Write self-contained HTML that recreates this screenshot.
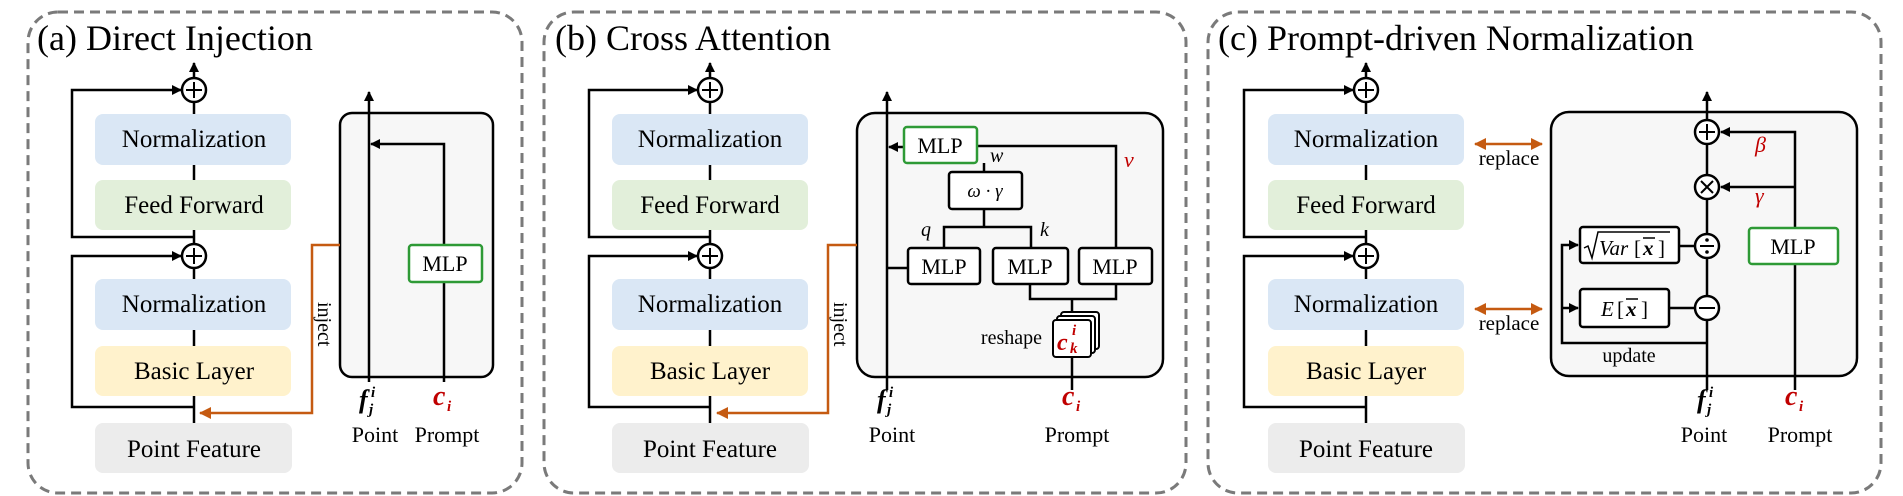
<!DOCTYPE html>
<html><head><meta charset="utf-8"><style>
html,body{margin:0;padding:0;background:#fff;}
svg{display:block;}
svg text{font-family:"Liberation Serif","DejaVu Serif",serif;}
</style></head><body>
<svg width="1903" height="496" viewBox="0 0 1903 496" xmlns="http://www.w3.org/2000/svg" font-family="Liberation Serif, DejaVu Serif, serif">
<defs>
<marker id="ab" markerWidth="10" markerHeight="10" refX="9" refY="5" orient="auto" markerUnits="userSpaceOnUse"><path d="M0,0 L10,5 L0,10 z" fill="#000"/></marker>
<marker id="ao" markerWidth="12" markerHeight="12" refX="11" refY="6" orient="auto-start-reverse" markerUnits="userSpaceOnUse"><path d="M0,0 L12,6 L0,12 z" fill="#c55a11"/></marker>
</defs>

<g fill="none" stroke="#7a7a7a" stroke-width="3" stroke-dasharray="10 6">
<rect x="28" y="12" width="494" height="481" rx="30"/>
<rect x="544" y="12" width="642" height="481" rx="30"/>
<rect x="1208" y="12" width="673" height="481" rx="30"/>
</g>

<g font-family="Liberation Serif, DejaVu Serif, serif" font-size="36">
<text x="37" y="50">(a) Direct Injection</text>
<text x="555" y="50">(b) Cross Attention</text>
<text x="1218" y="50">(c) Prompt-driven Normalization</text>
</g>

<g font-size="25" text-anchor="middle" stroke-width="2.5" font-family="Liberation Serif, DejaVu Serif, serif">
<g transform="translate(194,0)">
 <line x1="0" y1="78" x2="0" y2="63" stroke="#000" stroke-width="2.5" marker-end="url(#ab)"/>
 <circle cx="0" cy="90" r="12" fill="#fff" stroke="#000" stroke-width="2.5"/><path d="M-8,90H8M0,82V98" stroke="#000" stroke-width="2"/>
 <path d="M0,237 H-122 V90 H-13" fill="none" stroke="#000" stroke-width="2.5" marker-end="url(#ab)"/>
 <line x1="0" y1="102" x2="0" y2="114" stroke="#000"/>
 <rect x="-99" y="114" width="196" height="51" rx="8" fill="#dae7f5"/><text x="0" y="147">Normalization</text>
 <line x1="0" y1="165" x2="0" y2="180" stroke="#000"/>
 <rect x="-99" y="180" width="196" height="50" rx="8" fill="#e2efda"/><text x="0" y="213">Feed Forward</text>
 <line x1="0" y1="230" x2="0" y2="244" stroke="#000"/>
 <circle cx="0" cy="256" r="12" fill="#fff" stroke="#000" stroke-width="2.5"/><path d="M-8,256H8M0,248V264" stroke="#000" stroke-width="2"/>
 <path d="M0,407 H-122 V256 H-13" fill="none" stroke="#000" stroke-width="2.5" marker-end="url(#ab)"/>
 <line x1="0" y1="268" x2="0" y2="279" stroke="#000"/>
 <rect x="-99" y="279" width="196" height="51" rx="8" fill="#dae7f5"/><text x="0" y="312">Normalization</text>
 <line x1="0" y1="330" x2="0" y2="346" stroke="#000"/>
 <rect x="-99" y="346" width="196" height="50" rx="8" fill="#fff2cc"/><text x="0" y="379">Basic Layer</text>
 <line x1="0" y1="396" x2="0" y2="423" stroke="#000"/>
 <rect x="-99" y="423" width="197" height="50" rx="8" fill="#ececec"/><text x="0" y="457">Point Feature</text>
</g>
<g transform="translate(710,0)">
 <line x1="0" y1="78" x2="0" y2="63" stroke="#000" stroke-width="2.5" marker-end="url(#ab)"/>
 <circle cx="0" cy="90" r="12" fill="#fff" stroke="#000" stroke-width="2.5"/><path d="M-8,90H8M0,82V98" stroke="#000" stroke-width="2"/>
 <path d="M0,237 H-121 V90 H-13" fill="none" stroke="#000" stroke-width="2.5" marker-end="url(#ab)"/>
 <line x1="0" y1="102" x2="0" y2="114" stroke="#000"/>
 <rect x="-98" y="114" width="196" height="51" rx="8" fill="#dae7f5"/><text x="0" y="147">Normalization</text>
 <line x1="0" y1="165" x2="0" y2="180" stroke="#000"/>
 <rect x="-98" y="180" width="196" height="50" rx="8" fill="#e2efda"/><text x="0" y="213">Feed Forward</text>
 <line x1="0" y1="230" x2="0" y2="244" stroke="#000"/>
 <circle cx="0" cy="256" r="12" fill="#fff" stroke="#000" stroke-width="2.5"/><path d="M-8,256H8M0,248V264" stroke="#000" stroke-width="2"/>
 <path d="M0,407 H-121 V256 H-13" fill="none" stroke="#000" stroke-width="2.5" marker-end="url(#ab)"/>
 <line x1="0" y1="268" x2="0" y2="279" stroke="#000"/>
 <rect x="-98" y="279" width="196" height="51" rx="8" fill="#dae7f5"/><text x="0" y="312">Normalization</text>
 <line x1="0" y1="330" x2="0" y2="346" stroke="#000"/>
 <rect x="-98" y="346" width="196" height="50" rx="8" fill="#fff2cc"/><text x="0" y="379">Basic Layer</text>
 <line x1="0" y1="396" x2="0" y2="423" stroke="#000"/>
 <rect x="-98" y="423" width="197" height="50" rx="8" fill="#ececec"/><text x="0" y="457">Point Feature</text>
</g>
<g transform="translate(1366,0)">
 <line x1="0" y1="78" x2="0" y2="63" stroke="#000" stroke-width="2.5" marker-end="url(#ab)"/>
 <circle cx="0" cy="90" r="12" fill="#fff" stroke="#000" stroke-width="2.5"/><path d="M-8,90H8M0,82V98" stroke="#000" stroke-width="2"/>
 <path d="M0,237 H-122 V90 H-13" fill="none" stroke="#000" stroke-width="2.5" marker-end="url(#ab)"/>
 <line x1="0" y1="102" x2="0" y2="114" stroke="#000"/>
 <rect x="-98" y="114" width="196" height="51" rx="8" fill="#dae7f5"/><text x="0" y="147">Normalization</text>
 <line x1="0" y1="165" x2="0" y2="180" stroke="#000"/>
 <rect x="-98" y="180" width="196" height="50" rx="8" fill="#e2efda"/><text x="0" y="213">Feed Forward</text>
 <line x1="0" y1="230" x2="0" y2="244" stroke="#000"/>
 <circle cx="0" cy="256" r="12" fill="#fff" stroke="#000" stroke-width="2.5"/><path d="M-8,256H8M0,248V264" stroke="#000" stroke-width="2"/>
 <path d="M0,407 H-122 V256 H-13" fill="none" stroke="#000" stroke-width="2.5" marker-end="url(#ab)"/>
 <line x1="0" y1="268" x2="0" y2="279" stroke="#000"/>
 <rect x="-98" y="279" width="196" height="51" rx="8" fill="#dae7f5"/><text x="0" y="312">Normalization</text>
 <line x1="0" y1="330" x2="0" y2="346" stroke="#000"/>
 <rect x="-98" y="346" width="196" height="50" rx="8" fill="#fff2cc"/><text x="0" y="379">Basic Layer</text>
 <line x1="0" y1="396" x2="0" y2="423" stroke="#000"/>
 <rect x="-98" y="423" width="197" height="50" rx="8" fill="#ececec"/><text x="0" y="457">Point Feature</text>
</g>
</g>

<g font-family="Liberation Serif, DejaVu Serif, serif">
<!-- Panel A right -->
<rect x="340" y="113" width="153" height="264" rx="12" fill="#f7f7f7" stroke="#000" stroke-width="2.5"/>
<line x1="369" y1="382" x2="369" y2="92" stroke="#000" stroke-width="2.5" marker-end="url(#ab)"/>
<path d="M444,382 V144 H371" fill="none" stroke="#000" stroke-width="2.5" marker-end="url(#ab)"/>
<rect x="409" y="245" width="73" height="37" rx="3" fill="#fff" stroke="#2e9a36" stroke-width="2.5"/>
<text x="445" y="271" font-size="22" text-anchor="middle">MLP</text>
<path d="M340,245 H312 V413 H200" fill="none" stroke="#c55a11" stroke-width="2.5" marker-end="url(#ao)"/>
<text transform="translate(318,302) rotate(90)" font-size="20">inject</text>
<text x="359" y="408" font-size="26" font-weight="bold" font-style="italic">f</text>
<text x="371" y="397" font-size="15" font-weight="bold" font-style="italic">i</text>
<text x="369" y="414" font-size="15" font-weight="bold" font-style="italic">j</text>
<text x="433" y="405" font-size="28" font-weight="bold" font-style="italic" fill="#c00000">c</text>
<text x="447" y="411" font-size="15" font-weight="bold" font-style="italic" fill="#c00000">i</text>
<text x="375" y="442" font-size="22" text-anchor="middle">Point</text>
<text x="447" y="442" font-size="22" text-anchor="middle">Prompt</text>

<!-- Panel B right -->
<rect x="857" y="113" width="306" height="264" rx="18" fill="#f7f7f7" stroke="#000" stroke-width="2.5"/>
<line x1="887" y1="390" x2="887" y2="92" stroke="#000" stroke-width="2.5" marker-end="url(#ab)"/>
<path d="M857,245 H828 V413 H717" fill="none" stroke="#c55a11" stroke-width="2.5" marker-end="url(#ao)"/>
<text transform="translate(834,302) rotate(90)" font-size="20">inject</text>
<g stroke="#000" stroke-width="2.5" fill="none">
<line x1="904" y1="147" x2="889" y2="147" marker-end="url(#ab)"/>
<path d="M977,146 H1116 V248"/>
<line x1="984" y1="163" x2="984" y2="172"/>
<path d="M984,209 V227 M944,248 V227 H1031 V248"/>
<line x1="887" y1="268" x2="908" y2="268"/>
<path d="M1030,284 V299 H1116 V284 M1072,299 V312"/>
<line x1="1072" y1="357" x2="1072" y2="390"/>
</g>
<rect x="904" y="127" width="73" height="36" rx="3" fill="#fff" stroke="#2e9a36" stroke-width="2.5"/>
<text x="940" y="153" font-size="22" text-anchor="middle">MLP</text>
<rect x="949" y="172" width="73" height="37" rx="3" fill="#fff" stroke="#000" stroke-width="2.5"/>
<text x="985" y="197" font-size="19" font-style="italic" text-anchor="middle">ω · γ</text>
<g fill="#fff" stroke="#000" stroke-width="2.5">
<rect x="908" y="248" width="72" height="36" rx="3"/>
<rect x="993" y="248" width="75" height="36" rx="3"/>
<rect x="1079" y="248" width="73" height="36" rx="3"/>
</g>
<g font-size="22" text-anchor="middle">
<text x="944" y="274">MLP</text><text x="1030" y="274">MLP</text><text x="1115" y="274">MLP</text>
</g>
<text x="990" y="162" font-size="20" font-style="italic">w</text>
<text x="1124" y="167" font-size="22" font-style="italic" fill="#c00000">v</text>
<text x="921" y="236" font-size="20" font-style="italic">q</text>
<text x="1040" y="236" font-size="20" font-style="italic">k</text>
<g fill="#fff" stroke="#000" stroke-width="2">
<rect x="1061" y="312" width="38" height="37" rx="3"/>
<rect x="1057" y="316" width="38" height="37" rx="3"/>
<rect x="1053" y="320" width="38" height="37" rx="3"/>
</g>
<text x="1057" y="350" font-size="24" font-weight="bold" font-style="italic" fill="#c00000">c</text>
<text x="1072" y="335" font-size="15" font-weight="bold" font-style="italic" fill="#c00000">i</text>
<text x="1070" y="353" font-size="15" font-weight="bold" font-style="italic" fill="#c00000">k</text>
<text x="1042" y="344" font-size="20" text-anchor="end">reshape</text>
<text x="877" y="408" font-size="26" font-weight="bold" font-style="italic">f</text>
<text x="889" y="397" font-size="15" font-weight="bold" font-style="italic">i</text>
<text x="887" y="414" font-size="15" font-weight="bold" font-style="italic">j</text>
<text x="1062" y="405" font-size="28" font-weight="bold" font-style="italic" fill="#c00000">c</text>
<text x="1076" y="411" font-size="15" font-weight="bold" font-style="italic" fill="#c00000">i</text>
<text x="892" y="442" font-size="22" text-anchor="middle">Point</text>
<text x="1077" y="442" font-size="22" text-anchor="middle">Prompt</text>

<!-- Panel C -->
<line x1="1475" y1="144" x2="1542" y2="144" stroke="#c55a11" stroke-width="2.5" marker-start="url(#ao)" marker-end="url(#ao)"/>
<line x1="1475" y1="309" x2="1542" y2="309" stroke="#c55a11" stroke-width="2.5" marker-start="url(#ao)" marker-end="url(#ao)"/>
<text x="1509" y="165" font-size="21" text-anchor="middle">replace</text>
<text x="1509" y="330" font-size="21" text-anchor="middle">replace</text>

<rect x="1551" y="112" width="306" height="264" rx="18" fill="#f7f7f7" stroke="#000" stroke-width="2.5"/>
<g stroke="#000" stroke-width="2.5" fill="none">
<line x1="1707" y1="390" x2="1707" y2="92" marker-end="url(#ab)"/>
<line x1="1795" y1="390" x2="1795" y2="264"/>
<path d="M1795,228 V132 H1721" marker-end="url(#ab)"/>
<line x1="1795" y1="187" x2="1721" y2="187" marker-end="url(#ab)"/>
<path d="M1707,343 H1562 V245 H1578" marker-end="url(#ab)"/>
<line x1="1562" y1="308" x2="1578" y2="308" marker-end="url(#ab)"/>
<line x1="1679" y1="246" x2="1695" y2="246"/>
<line x1="1669" y1="308" x2="1695" y2="308"/>
</g>
<g fill="#fff" stroke="#000" stroke-width="2.5">
<circle cx="1707" cy="132" r="12"/><circle cx="1707" cy="187" r="12"/><circle cx="1707" cy="246" r="12"/><circle cx="1707" cy="308" r="12"/>
</g>
<g stroke="#000" stroke-width="2">
<path d="M1699,132H1715M1707,124V140"/>
<path d="M1701,181L1713,193M1713,181L1701,193"/>
<path d="M1700,246H1714"/>
<path d="M1699,308H1715"/>
</g>
<circle cx="1707" cy="240" r="1.8" fill="#000"/><circle cx="1707" cy="252" r="1.8" fill="#000"/>
<text x="1755" y="152" font-size="22" font-style="italic" fill="#c00000">β</text>
<text x="1755" y="203" font-size="22" font-style="italic" fill="#c00000">γ</text>
<rect x="1749" y="228" width="89" height="36" rx="3" fill="#fff" stroke="#2e9a36" stroke-width="2.5"/>
<text x="1793" y="254" font-size="22" text-anchor="middle">MLP</text>
<rect x="1580" y="227" width="99" height="36" rx="3" fill="#fff" stroke="#000" stroke-width="2.5"/>
<path d="M1584,248 L1588,246 L1592,258 L1598,232 H1670" fill="none" stroke="#000" stroke-width="1.5"/>
<text x="1599" y="255" font-size="21" font-style="italic">Var</text>
<text x="1634" y="255" font-size="21">[</text>
<text x="1643" y="255" font-size="21" font-weight="bold" font-style="italic">x</text>
<line x1="1643" y1="238" x2="1655" y2="238" stroke="#000" stroke-width="1.5"/>
<text x="1658" y="255" font-size="21">]</text>
<rect x="1580" y="289" width="89" height="38" rx="3" fill="#fff" stroke="#000" stroke-width="2.5"/>
<text x="1601" y="316" font-size="21" font-style="italic">E</text>
<text x="1617" y="316" font-size="21">[</text>
<text x="1626" y="316" font-size="21" font-weight="bold" font-style="italic">x</text>
<line x1="1626" y1="299" x2="1638" y2="299" stroke="#000" stroke-width="1.5"/>
<text x="1641" y="316" font-size="21">]</text>
<text x="1629" y="362" font-size="20" text-anchor="middle">update</text>
<text x="1697" y="408" font-size="26" font-weight="bold" font-style="italic">f</text>
<text x="1709" y="397" font-size="15" font-weight="bold" font-style="italic">i</text>
<text x="1707" y="414" font-size="15" font-weight="bold" font-style="italic">j</text>
<text x="1785" y="405" font-size="28" font-weight="bold" font-style="italic" fill="#c00000">c</text>
<text x="1799" y="411" font-size="15" font-weight="bold" font-style="italic" fill="#c00000">i</text>
<text x="1704" y="442" font-size="22" text-anchor="middle">Point</text>
<text x="1800" y="442" font-size="22" text-anchor="middle">Prompt</text>
</g>
</svg>
</body></html>
